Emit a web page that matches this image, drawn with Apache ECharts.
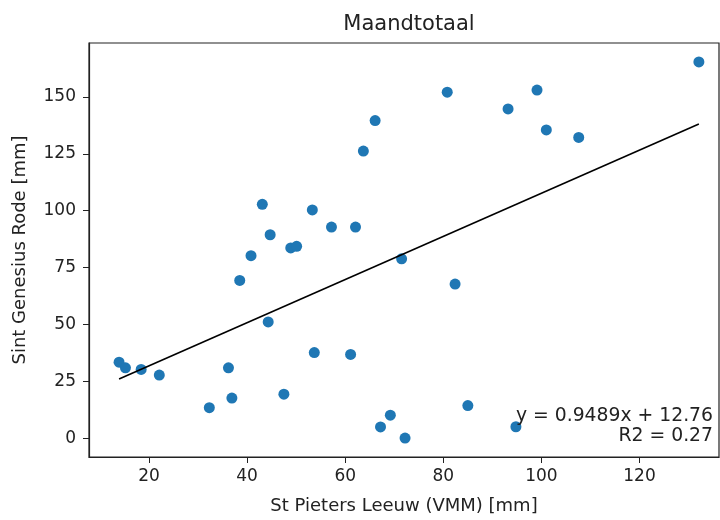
<!DOCTYPE html>
<html>
<head>
<meta charset="utf-8">
<script src="https://cdn.jsdelivr.net/npm/echarts@6/dist/echarts.min.js"></script>
<style>
  html, body { margin: 0; padding: 0; background: #fff; }
  #chart { width: 720px; height: 520px; }
</style>
</head>
<body>
<div id="chart"></div>
<script>
// monthly totals: St Pieters Leeuw (x) vs Sint Genesius Rode (y)
const xVals = [66.1, 63.7, 43.1, 53.3, 44.7, 57.2, 62.1, 48.9, 50.1, 40.8, 71.5,
               132.1, 80.8, 99.1, 93.2, 101.0, 107.6, 38.5, 44.3, 13.9, 15.2, 18.4,
               22.1, 36.2, 53.7, 61.1, 32.3, 36.9, 47.5, 67.2, 69.2, 72.2, 82.4, 85.0, 94.8];
const yVals = [139.6, 126.2, 102.8, 100.3, 89.4, 92.8, 92.8, 83.6, 84.3, 80.2, 78.8,
               165.4, 152.1, 153.0, 144.7, 135.5, 132.2, 69.3, 51.1, 33.4, 30.9, 30.2,
               27.7, 30.9, 37.6, 36.8, 13.4, 17.6, 19.3, 4.9, 10.1, 0, 67.7, 14.3, 5.0];

// regression line end points
const fitX = [13.9, 132.1];
const fitY = [25.95, 138.1];

const xTicks = [20, 40, 60, 80, 100, 120];
const yTicks = [0, 25, 50, 75, 100, 125, 150];

const fitText = ['y = 0.9489x + 12.76', 'R2 = 0.27'];

const font = 'DejaVu Sans';
const chart = echarts.init(document.getElementById('chart'));

chart.setOption({
    animation: false,
    title: {
        text: 'Maandtotaal',
        left: 404,
        textAlign: 'center',
        top: 9,
        textStyle: { fontFamily: font, fontSize: 21, fontWeight: 'normal', color: '#222' }
    },
    grid: {
        left: 89, right: 1, top: 43, bottom: 61,
        show: true, borderColor: '#222', borderWidth: 1.2
    },
    xAxis: {
        type: 'value',
        min: 7.77,
        max: 136.2,
        name: 'St Pieters Leeuw (VMM) [mm]',
        nameLocation: 'middle',
        nameGap: 40,
        nameTextStyle: { fontFamily: font, fontSize: 18, color: '#222' },
        splitLine: { show: false },
        axisLine: { show: true, onZero: false, lineStyle: { color: '#222', width: 1.2 } },
        axisTick: { show: true, length: 6, customValues: xTicks, lineStyle: { color: '#222' } },
        axisLabel: { customValues: xTicks, margin: 11, fontFamily: font, fontSize: 17, color: '#222' }
    },
    yAxis: {
        type: 'value',
        min: -8.3,
        max: 173.7,
        name: 'Sint Genesius Rode [mm]',
        nameLocation: 'middle',
        nameGap: 60,
        nameTextStyle: { fontFamily: font, fontSize: 18, color: '#222' },
        splitLine: { show: false },
        axisLine: { show: true, onZero: false, lineStyle: { color: '#222', width: 1.2 } },
        axisTick: { show: true, length: 6, customValues: yTicks, lineStyle: { color: '#222' } },
        axisLabel: { customValues: yTicks, margin: 13, fontFamily: font, fontSize: 17, color: '#222' }
    },
    graphic: fitText.map((t, i) => ({
        type: 'text',
        right: 7,
        top: 407 + i * 20,
        style: {
            text: t,
            align: 'right',
            fontFamily: font,
            fontSize: 18.8,
            fill: '#222'
        },
        z: 10
    })),
    series: [{
        name: 'Maandtotaal',
        type: 'scatter',
        data: xVals.map((x, i) => [x, yVals[i]]),
        symbolSize: 11,
        itemStyle: { color: '#1f77b4', opacity: 1 }
    }, {
        name: 'fit',
        type: 'line',
        data: fitX.map((x, i) => [x, fitY[i]]),
        showSymbol: false,
        symbol: 'none',
        lineStyle: { color: '#000', width: 1.6 },
        z: 3
    }]
});
</script>
</body>
</html>
